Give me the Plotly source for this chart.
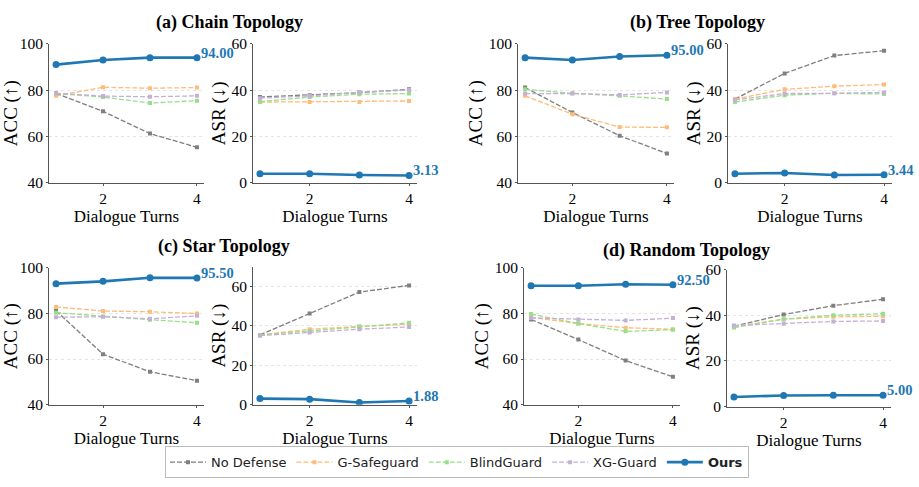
import plotly.graph_objects as go

W, H = 919, 487
turns = [1, 2, 3, 4]
methods = ["No Defense", "G-Safeguard", "BlindGuard", "XG-Guard", "Ours"]

# ACC / ASR values per topology, per method (turns 1..4)
chain_acc = {
    "No Defense": [78.6, 70.8, 61.2, 55.3],
    "G-Safeguard": [77.5, 81.2, 80.8, 81.1],
    "BlindGuard": [78.5, 77.0, 74.4, 75.4],
    "XG-Guard": [78.6, 77.4, 77.1, 77.5],
    "Ours": [91.0, 93.0, 94.0, 94.0],
}
chain_asr = {
    "No Defense": [37.0, 37.8, 38.9, 40.3],
    "G-Safeguard": [34.8, 34.9, 34.9, 35.3],
    "BlindGuard": [35.0, 37.0, 38.2, 38.5],
    "XG-Guard": [36.5, 37.5, 39.0, 40.0],
    "Ours": [3.9, 3.9, 3.3, 3.13],
}
tree_acc = {
    "No Defense": [81.1, 70.3, 60.3, 52.6],
    "G-Safeguard": [77.5, 69.6, 64.0, 63.9],
    "BlindGuard": [80.3, 78.6, 77.5, 76.1],
    "XG-Guard": [78.5, 78.5, 77.9, 79.0],
    "Ours": [94.0, 93.0, 94.5, 95.0],
}
tree_asr = {
    "No Defense": [36.1, 47.2, 54.9, 57.0],
    "G-Safeguard": [36.1, 40.3, 41.7, 42.4],
    "BlindGuard": [34.8, 37.8, 38.6, 38.3],
    "XG-Guard": [35.7, 38.5, 38.6, 39.0],
    "Ours": [3.9, 4.2, 3.3, 3.44],
}
star_acc = {
    "No Defense": [81.1, 62.1, 54.4, 50.5],
    "G-Safeguard": [82.8, 81.0, 80.7, 79.9],
    "BlindGuard": [80.3, 78.6, 77.2, 75.9],
    "XG-Guard": [78.3, 78.5, 77.6, 78.9],
    "Ours": [93.0, 94.0, 95.6, 95.5],
}
star_asr = {
    "No Defense": [35.4, 46.3, 57.1, 60.5],
    "G-Safeguard": [35.4, 38.3, 39.7, 40.8],
    "BlindGuard": [35.4, 37.4, 39.7, 41.5],
    "XG-Guard": [35.0, 36.6, 38.3, 39.4],
    "Ours": [3.1, 2.8, 1.1, 1.88],
}
random_acc = {
    "No Defense": [77.3, 68.5, 59.3, 52.2],
    "G-Safeguard": [78.3, 75.5, 73.7, 73.0],
    "BlindGuard": [79.7, 75.5, 72.1, 72.8],
    "XG-Guard": [78.0, 77.3, 76.9, 77.9],
    "Ours": [92.1, 92.1, 92.7, 92.5],
}
random_asr = {
    "No Defense": [35.2, 40.3, 44.2, 47.0],
    "G-Safeguard": [35.0, 38.3, 39.3, 39.6],
    "BlindGuard": [34.6, 38.3, 40.0, 40.7],
    "XG-Guard": [35.5, 36.3, 37.3, 37.5],
    "Ours": [4.2, 4.9, 5.0, 5.0],
}
titles = ["(a) Chain Topology", "(b) Tree Topology", "(c) Star Topology", "(d) Random Topology"]
acc_ticks = [40, 60, 80, 100]
asr_ticks = [0, 20, 40, 60]
x_ticks = [2, 4]

colors = {
    "No Defense": "#7f7f7f",
    "G-Safeguard": "#ffbb78",
    "BlindGuard": "#98df8a",
    "XG-Guard": "#c5b0d5",
    "Ours": "#1f77b4",
}

# panel pixel boxes: (left, right, top, bottom), y-range, x-range
panels = [
    (chain_acc, (49, 204, 36, 180), [40, 100], acc_ticks, "ACC (↑)", [0.85, 4.15]),
    (chain_asr, (253, 417, 36, 180), [0, 60], asr_ticks, "ASR (↓)", [0.86, 4.16]),
    (tree_acc, (518, 674, 36, 180), [40, 100], acc_ticks, "ACC (↑)", [0.85, 4.15]),
    (tree_asr, (728, 892, 36, 180), [0, 60], asr_ticks, "ASR (↓)", [0.86, 4.16]),
    (star_acc, (49, 204, 268, 410), [40, 100], acc_ticks, "ACC (↑)", [0.85, 4.15]),
    (star_asr, (253, 417, 267, 410), [0, 70], asr_ticks, "ASR (↓)", [0.86, 4.16]),
    (random_acc, (524, 680, 268, 410), [40, 100], acc_ticks, "ACC (↑)", [0.85, 4.15]),
    (random_asr, (727, 891, 270, 412), [0, 60], asr_ticks, "ASR (↓)", [0.86, 4.16]),
]

SERIF = "Liberation Serif"
fig = go.Figure()
layout = dict(
    width=W, height=H,
    margin=dict(l=0, r=0, t=0, b=0),
    paper_bgcolor="white", plot_bgcolor="white",
    showlegend=True,
    font=dict(family=SERIF, color="black"),
)
annotations = []

for i, (data, (l, r, t, b), yr, yt, ytitle, xr) in enumerate(panels):
    n = i + 1
    xa = "x" if n == 1 else f"x{n}"
    ya = "y" if n == 1 else f"y{n}"
    for m in methods:
        ours = m == "Ours"
        fig.add_trace(go.Scatter(
            x=turns, y=data[m], xaxis=xa, yaxis=ya,
            mode="lines+markers",
            name="<b>Ours</b>" if ours else m,
            legendgroup=m, showlegend=(i == 0),
            line=dict(color=colors[m], width=2.6 if ours else 1.3,
                      dash="solid" if ours else "5px,2px"),
            marker=dict(color=colors[m], size=7 if ours else 4,
                        symbol="circle" if ours else "square"),
        ))
    annotations.append(dict(
        x=turns[-1], y=data["Ours"][-1], xref=xa, yref=ya,
        text=f"<b>{data['Ours'][-1]:.2f}</b>", showarrow=False,
        xanchor="left", yanchor="middle", xshift=2, yshift=5,
        font=dict(family=SERIF, size=14.5, color="#1f77b4"),
    ))
    axcommon = dict(
        showline=True, linecolor="#555555", linewidth=1,
        ticks="outside", ticklen=2, tickcolor="#555555",
        tickfont=dict(family=SERIF, size=15.5, color="black"),
        zeroline=False,
    )
    key_x = "xaxis" if n == 1 else f"xaxis{n}"
    key_y = "yaxis" if n == 1 else f"yaxis{n}"
    layout[key_x] = dict(
        axcommon, domain=[l / W, r / W], anchor=ya, range=xr,
        tickvals=x_ticks, showgrid=False,
        title=dict(text="Dialogue Turns", font=dict(family=SERIF, size=17), standoff=0),
    )
    layout[key_y] = dict(
        axcommon, domain=[1 - b / H, 1 - t / H], anchor=xa, range=yr,
        tickvals=yt, showgrid=True, gridcolor="#e4e4e4", griddash="dot", gridwidth=1,
        title=dict(text=ytitle, font=dict(family=SERIF, size=19), standoff=0),
    )

title_pos = [(229, 14), (697, 14), (224, 246), (686, 250)]
for txt, (cx, cy) in zip(titles, title_pos):
    annotations.append(dict(
        x=cx / W, y=1 - cy / H, xref="paper", yref="paper",
        text=f"<b>{txt}</b>", showarrow=False, xanchor="center", yanchor="middle",
        font=dict(family=SERIF, size=18, color="black"),
    ))

layout["annotations"] = annotations
layout["legend"] = dict(
    orientation="h", x=165 / W, y=1 - 453 / H, xanchor="left", yanchor="top",
    bordercolor="#bbbbbb", borderwidth=1, bgcolor="white",
    font=dict(family="DejaVu Sans", size=13, color="#222222"),
    itemwidth=36, tracegroupgap=0,
)
fig.update_layout(**layout)
fig.write_html("out.html")
